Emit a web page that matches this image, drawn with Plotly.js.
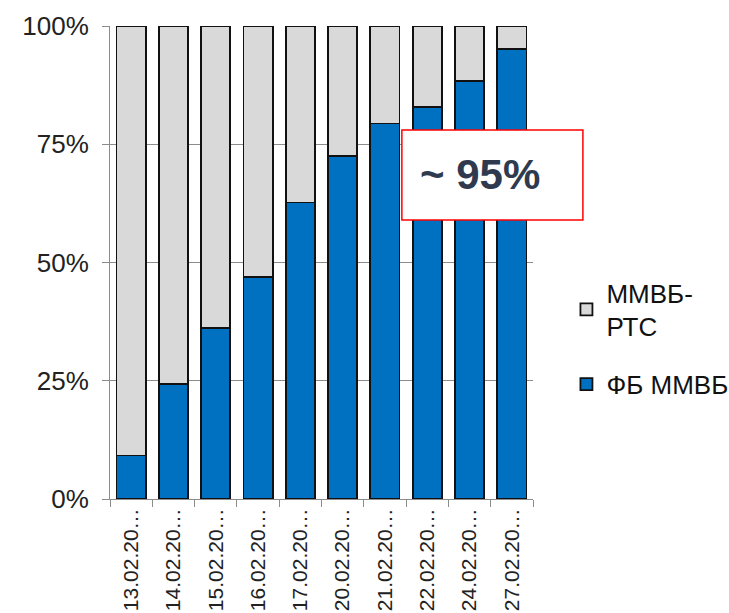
<!DOCTYPE html>
<html><head><meta charset="utf-8">
<script src="https://cdn.plot.ly/plotly-3.0.1.min.js"></script>
<style>html,body{margin:0;padding:0;background:#fff}#chart{width:729px;height:613px}</style>
</head><body><div id="chart"></div>
<script>
const categories = ["13.02.20…","14.02.20…","15.02.20…","16.02.20…","17.02.20…","20.02.20…","21.02.20…","22.02.20…","24.02.20…","27.02.20…"];
const fbMmvb = [9.2, 24.3, 36.2, 47.0, 62.7, 72.6, 79.4, 82.9, 88.4, 95.1];
const mmvbRts = fbMmvb.map(v => 100 - v);
const yTicks = [0, 25, 50, 75, 100];
const yTickText = ["0%", "25%", "50%", "75%", "100%"];
const seriesNames = ["ФБ ММВБ", "ММВБ-<br>РТС"];
const calloutText = "~ 95%";

const font = "Liberation Sans, Arial, sans-serif";
const traces = [
  {type:"bar", name:seriesNames[0], x:categories, y:fbMmvb, legendgroup:"b", legendrank:2,
   marker:{color:"#0070C0", line:{color:"#111", width:1.8}}},
  {type:"bar", name:seriesNames[1], x:categories, y:mmvbRts, legendgroup:"a", legendrank:1,
   marker:{color:"#D9D9D9", line:{color:"#111", width:1.8}}}
];
const layout = {
  width:729, height:613,
  margin:{l:110, r:196, t:26, b:114, autoexpand:false},
  barmode:"stack", bargap:0.31,
  paper_bgcolor:"#fff", plot_bgcolor:"#fff",
  font:{family:font, color:"#222"},
  showlegend:true,
  legend:{xref:"container", yref:"container", x:0.777, xanchor:"left", y:0.561, yanchor:"top",
          font:{size:26, color:"#111"}, traceorder:"grouped", tracegroupgap:21,
          itemwidth:30, bgcolor:"rgba(0,0,0,0)"},
  xaxis:{type:"category", tickangle:-90, tickfont:{size:21, color:"#222"},
         showline:true, linecolor:"#8c8c8c", linewidth:1,
         ticks:"outside", tickson:"boundaries", ticklen:7, tickcolor:"#8c8c8c",
         showgrid:false, fixedrange:true},
  yaxis:{range:[0,100], tickvals:yTicks, ticktext:yTickText, tickfont:{size:26, color:"#222"},
         ticklabelstandoff:8,
         showgrid:true, gridcolor:"#8c8c8c", gridwidth:1,
         showline:true, linecolor:"#8c8c8c", linewidth:1,
         ticks:"outside", ticklen:7, tickcolor:"#8c8c8c", zeroline:false, fixedrange:true},
  shapes:[{type:"rect", xref:"paper", yref:"paper", x0:0.690, x1:1.118, y0:0.590, y1:0.780,
           fillcolor:"#fff", line:{color:"#ff0000", width:1.5}, layer:"above"}],
  annotations:[{xref:"paper", yref:"paper", x:0.875, y:0.685, xanchor:"center", yanchor:"middle",
                text:"<b>"+calloutText+"</b>", showarrow:false,
                font:{size:42, color:"#2f3a4f", family:font}}]
};
Plotly.newPlot("chart", traces, layout, {displayModeBar:false, staticPlot:true});
</script>
</body></html>
